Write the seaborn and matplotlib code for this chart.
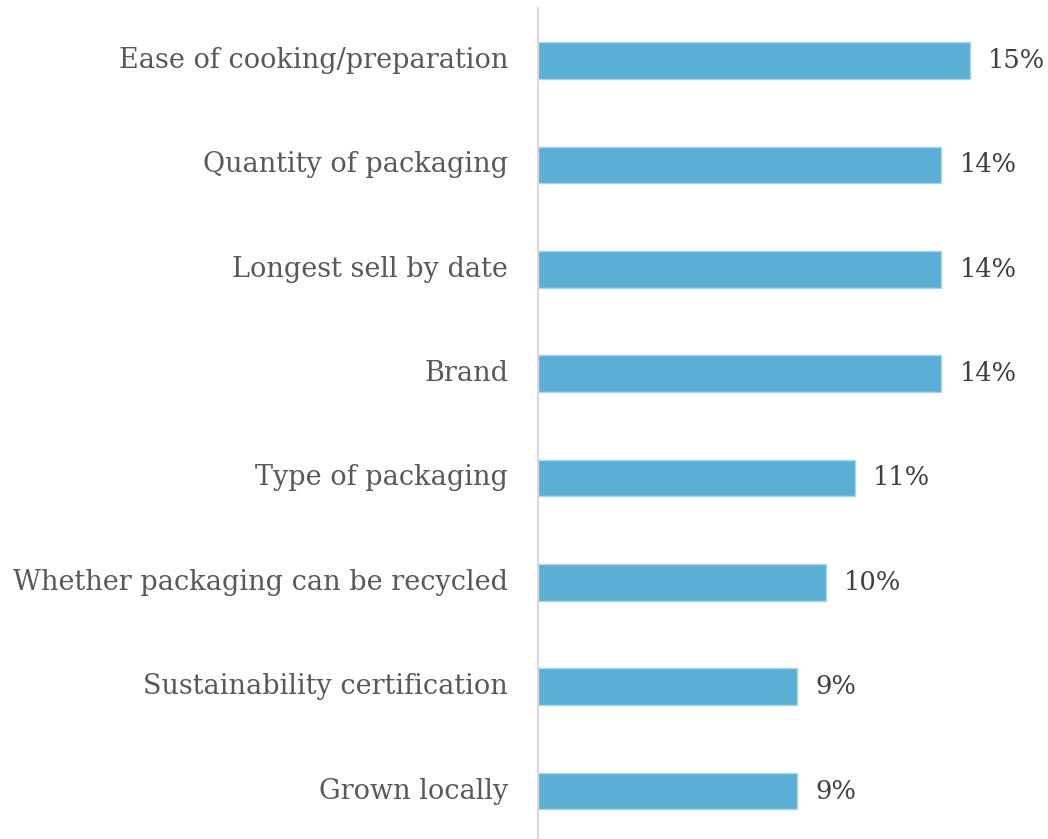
import matplotlib
matplotlib.use("Agg")
import matplotlib.pyplot as plt
import seaborn as sns
import pandas as pd

categories = [
    "Ease of cooking/preparation",
    "Quantity of packaging",
    "Longest sell by date",
    "Brand",
    "Type of packaging",
    "Whether packaging can be recycled",
    "Sustainability certification",
    "Grown locally",
]
shares = [15, 14, 14, 14, 11, 10, 9, 9]
value_labels = ["15%", "14%", "14%", "14%", "11%", "10%", "9%", "9%"]

df = pd.DataFrame({"factor": categories, "share": shares})

sns.set_theme(style="white")
plt.rcParams["font.family"] = ["DejaVu Serif"]

fig = plt.figure(figsize=(10.48, 8.39), dpi=100)
ax = fig.add_axes([0.5134, -0.005, 0.4866, 0.995])

sns.barplot(data=df, x="share", y="factor", orient="h", color="#5BAED4",
            saturation=1, width=0.35, edgecolor="#A8D5EA", linewidth=1, ax=ax)

ax.set_xlim(0, 17.7)
ax.set_ylim(7.5, -0.5)
ax.set_xlabel("")
ax.set_ylabel("")
ax.set_xticks([])
for side in ("top", "right", "bottom"):
    ax.spines[side].set_visible(False)
ax.spines["left"].set_color("#D9D9D9")
ax.spines["left"].set_linewidth(1.5)
ax.tick_params(axis="y", length=0, pad=21.5, labelsize=19.5, labelcolor="#595959")
for lbl in ax.get_yticklabels():
    lbl.set_va("center")

for i, (v, lab) in enumerate(zip(shares, value_labels)):
    ax.annotate(lab, xy=(v, i), xytext=(13, 0), textcoords="offset points",
                va="center", ha="left", fontsize=18.5, color="#404040")

fig.savefig("out.png", dpi=100)
